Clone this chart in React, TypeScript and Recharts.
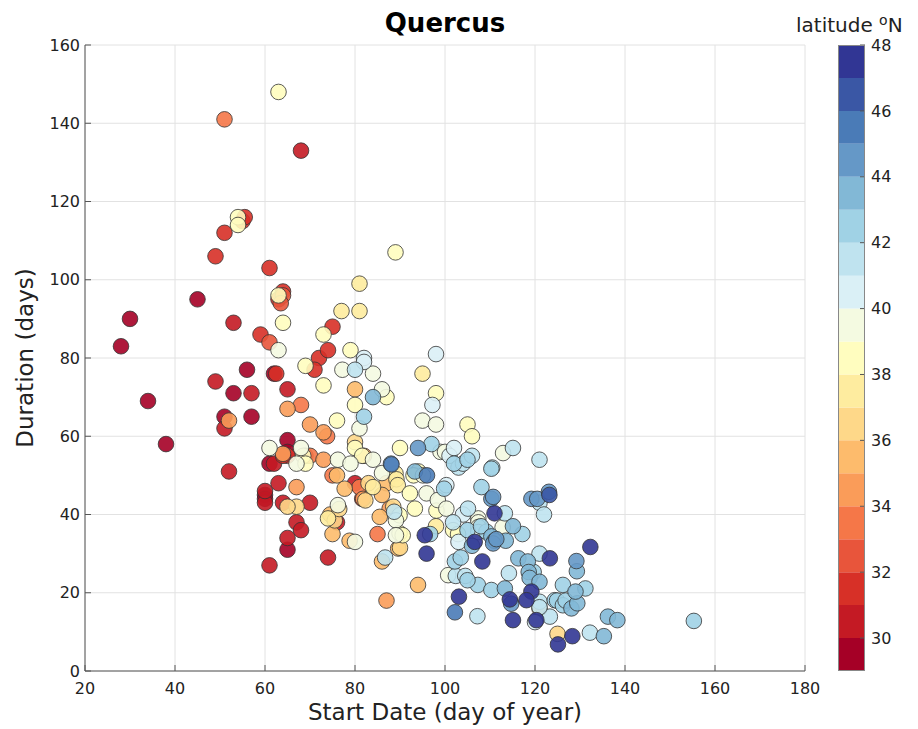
import React from "react";
import {
  ScatterChart,
  Scatter,
  XAxis,
  YAxis,
  CartesianGrid,
  BarChart,
  Bar,
} from "recharts";

// [start day, duration] per 1-degree latitude band
const lat29 = [[28,83],[30,90],[34,69],[38,58],[45,95],[53,71],[56,77],[62,76],[51,65],[57,65],[65,59],[65,56],[61,53],[65,31],[60,45],[60,44]];
const lat30 = [[68,133],[53,89],[49,74],[57,71],[65,72],[51,62],[52,51],[60,43],[64,43],[70,43],[67,38],[68,36],[65,34],[61,27],[74,29],[80,48],[63,48],[76,38],[62,53],[60,46]];
const lat31 = [[55,115],[55.5,116],[51,112],[49,106],[61,103],[64,97],[63,95],[59,86],[72,80],[71,77],[62.5,76],[75,88],[74,82],[81.6,44],[65,55],[64,55]];
const lat32 = [[64,96],[61,84],[63.5,94],[69,55]];
const lat33 = [[51,141],[68,68],[73.8,60],[75,50],[85,35],[70,55],[81,47]];
const lat34 = [[65,67],[70,63],[73,61],[52,64],[67,47],[87,18],[87.7,41.5],[81.8,44],[64,55.5],[73,54],[82,55]];
const lat35 = [[80,72],[76,50],[77.7,46.6],[87,48],[75,35],[78.8,33.3],[86,28],[89.6,31.3],[94,22],[121,16],[85.5,39.4],[74.5,40],[86,45]];
const lat36 = [[67,42],[65,42],[75.5,38.5],[82.3,43.6],[76.5,41.4],[125,9.5],[90,31.5],[88.5,42],[80,58.5],[83,48]];
const lat37 = [[77,92],[81,92],[81,99],[89,50.5],[89.2,49],[89.5,47.5],[98,37],[95,76],[74,39],[84,47]];
const lat38 = [[63,148],[54,116],[54,114],[63,96],[64,89],[73,86],[69,78],[73,73],[79,82],[87,70],[80,68],[76,64],[89,107],[98,71],[105,63],[106,60],[90,57],[80,57],[89.9,35.2],[90.6,34.7],[68.5,55],[92.2,45.4],[94.1,51],[93.3,41.5],[89.9,39.8],[98.1,41],[101.8,36],[102.9,35],[81.6,55],[69,53],[93,50]];
const lat39 = [[63,82],[61,57],[68,57],[77.2,77],[84,76],[86,72],[81,62],[95,64],[98,63],[76.2,54],[86,50.6],[95.9,45.4],[80,33],[76.2,42.4],[100.7,24.5],[99,56],[100,56],[112.9,55.7],[112.8,36.7],[107.4,39],[107.4,38],[107.4,36.8],[89.1,38.5],[89.1,34.7],[95.1,50],[98.4,43.7],[100.3,41.5],[84,54],[79,53],[67,53]];
const lat40 = [[82,80],[82,79],[98,81],[97.2,68],[107.4,35.5],[101,55],[102,57],[120,12.5],[103,33],[104,40],[100.3,47.5]];
const lat41 = [[80,77],[107.2,14],[86.7,29],[102.4,24.3],[104.5,24.3],[121,30],[121,43],[115.1,57],[121,54],[110.5,52],[113.3,40.3],[114.2,25],[123.3,13.9],[132.2,9.8],[121,17.7],[121,16.3],[105.1,41.5],[101.8,38],[88.7,40.7],[122,40],[103,52],[104,53],[106,55]];
const lat42 = [[82,65],[97,58],[88,53],[102.2,28],[107.3,22],[108.1,47],[110.3,51.7],[155.3,12.8],[99.8,46.6],[105,36],[109.2,35.6],[117.2,35],[119.7,25.3],[124.4,18.1],[124.9,18],[126.2,16.8],[126.8,18],[126.2,22],[131.2,21.1],[105,23.2],[96.7,35],[110.3,20.7],[102,53],[105,54],[108,37],[103.5,29]];
const lat43 = [[84,70],[93.3,51],[115.1,37],[113.5,33.3],[116.3,28.8],[118.4,28],[118.6,25.3],[118.8,23.8],[121,22.8],[113.3,21.1],[128.1,16],[129.4,17.3],[135.3,8.9],[136.2,13.9],[138.3,13],[129.3,25.5],[129,20.3],[110.3,34.4],[111,33.3],[106,32]];
const lat44 = [[94,57],[110.3,44],[110.7,44.5],[119.2,44],[120.5,44],[123.1,45.8],[129.2,28.1],[114.7,17.2],[110.7,32.6],[111.4,33.7]];
const lat45 = [[102.2,15],[88.1,52.8],[96,50]];
const lat46 = [[123.2,45]];
const lat47 = [[95.9,30],[95.5,34.7],[103.1,19],[106.6,33],[108.3,28],[111,40.3],[125.1,6.8],[128.3,8.9],[132.3,31.7],[123.3,28.8],[114.4,18.3],[119.2,20.3],[118.1,18.1],[115.1,13],[120.3,13]];

const bandPoints = [lat29, lat30, lat31, lat32, lat33, lat34, lat35, lat36, lat37, lat38, lat39, lat40, lat41, lat42, lat43, lat44, lat45, lat46, lat47];
const bandLats = [29, 30, 31, 32, 33, 34, 35, 36, 37, 38, 39, 40, 41, 42, 43, 44, 45, 46, 47];
const bandColors = [
  "#a50026", "#c41a24", "#d73027", "#e8553b", "#f57748", "#fa9c59", "#fdbb6c",
  "#fed889", "#feec9f", "#fffdbf", "#f4fae1", "#daf0f6", "#bfe3ef", "#a0d2e5",
  "#82b8d6", "#6598c7", "#4a7bb7", "#3a57a5", "#313694",
];

const dayTicks = [20, 40, 60, 80, 100, 120, 140, 160, 180];
const durationTicks = [0, 20, 40, 60, 80, 100, 120, 140, 160];
const latTicks = [30, 32, 34, 36, 38, 40, 42, 44, 46, 48];

// colorbar: an invisible base up to 29, then one 1-degree segment per band
const colorbarRow: Record<string, number | string> = {name: "lat", base: bandLats[0]};
bandLats.forEach((lat) => {
  colorbarRow["b" + lat] = 1;
});

const font = "'DejaVu Sans', sans-serif";
const tickStyle = {fontFamily: font, fontSize: 16, fill: "#222"};
const boxColor = "#555";

function Dot(props: any) {
  const {cx, cy, fill} = props;
  return (
    <circle cx={cx} cy={cy} r={7.8} fill={fill} fillOpacity={0.9} stroke="#333" strokeWidth={0.8} />
  );
}

function Colorbar() {
  return (
    <BarChart
      width={128}
      height={729}
      data={[colorbarRow]}
      margin={{top: 45, right: 0, bottom: 58, left: 48}}
      barCategoryGap={0}
    >
      <XAxis dataKey="name" hide />
      <YAxis
        orientation="right"
        type="number"
        domain={[29, 48]}
        allowDataOverflow
        ticks={latTicks}
        width={53}
        tick={{...tickStyle, textAnchor: "start"}}
        tickSize={-5}
        tickMargin={11}
        tickLine={{stroke: boxColor}}
        axisLine={false}
      />
      <Bar dataKey="base" stackId="c" fill="none" isAnimationActive={false} />
      {bandLats.map((lat, i) => (
        <Bar
          key={lat}
          dataKey={"b" + lat}
          stackId="c"
          fill={bandColors[i]}
          isAnimationActive={false}
        />
      ))}
    </BarChart>
  );
}

export default function App() {
  return (
    <div style={{position: "absolute", left: 0, top: 0, width: 918, height: 729, background: "#fff"}}>
      <ScatterChart width={918} height={729} margin={{top: 45, right: 113, bottom: 0, left: 0}}>
        <CartesianGrid stroke="#e2e2e2" strokeWidth={1} />
        <XAxis
          dataKey="x"
          type="number"
          domain={[20, 180]}
          ticks={dayTicks}
          height={58}
          tick={tickStyle}
          tickSize={-6}
          tickMargin={18}
          tickLine={{stroke: boxColor}}
          axisLine={{stroke: boxColor}}
        />
        <XAxis
          xAxisId="top"
          orientation="top"
          type="number"
          domain={[20, 180]}
          ticks={dayTicks}
          height={0}
          tick={false}
          tickSize={-6}
          tickLine={{stroke: boxColor}}
          axisLine={{stroke: boxColor}}
        />
        <YAxis
          dataKey="y"
          type="number"
          domain={[0, 160]}
          ticks={durationTicks}
          width={85}
          tick={tickStyle}
          tickSize={-6}
          tickMargin={11}
          tickLine={{stroke: boxColor}}
          axisLine={{stroke: boxColor}}
        />
        <YAxis
          yAxisId="right"
          orientation="right"
          type="number"
          domain={[0, 160]}
          ticks={durationTicks}
          width={0}
          tick={false}
          tickSize={-6}
          tickLine={{stroke: boxColor}}
          axisLine={{stroke: boxColor}}
        />
        {bandPoints.map((pts, i) => (
          <Scatter
            key={bandLats[i]}
            data={pts.map(([x, y]) => ({x, y}))}
            fill={bandColors[i]}
            shape={<Dot />}
            isAnimationActive={false}
          />
        ))}
      </ScatterChart>

      <div style={{position: "absolute", left: 790, top: 0}}>
        <Colorbar />
      </div>
      <div style={{position: "absolute", left: 838, top: 45, width: 27, height: 626, border: "1px solid #888", boxSizing: "border-box", pointerEvents: "none"}} />

      <div style={{position: "absolute", left: 85, width: 720, top: 8, textAlign: "center", fontFamily: font, fontWeight: "bold", fontSize: 26, color: "#000"}}>
        Quercus
      </div>
      <div style={{position: "absolute", left: 85, width: 720, top: 699, textAlign: "center", fontFamily: font, fontSize: 23, color: "#222"}}>
        Start Date (day of year)
      </div>
      <div
        style={{
          position: "absolute",
          left: 25,
          top: 358,
          transform: "translate(-50%, -50%) rotate(-90deg)",
          whiteSpace: "nowrap",
          fontFamily: font,
          fontSize: 23,
          color: "#222",
        }}
      >
        Duration (days)
      </div>
      <div style={{position: "absolute", left: 796, top: 12, fontFamily: font, fontSize: 20, color: "#222", whiteSpace: "nowrap"}}>
        latitude <sup style={{fontSize: 14, verticalAlign: "7px"}}>o</sup>N
      </div>
    </div>
  );
}
